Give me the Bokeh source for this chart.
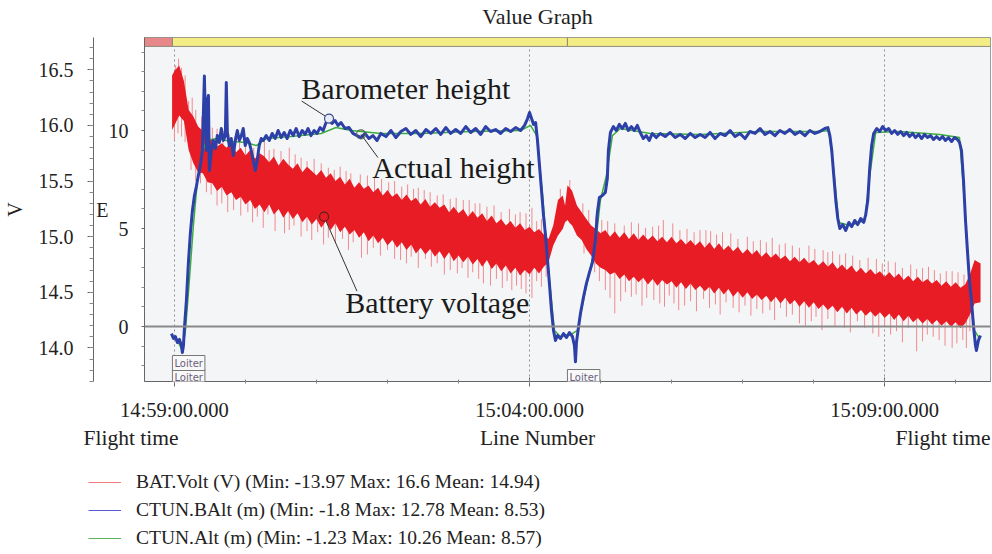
import pandas as pd
from bokeh.plotting import figure
from bokeh.layouts import column
from bokeh.models import (Range1d, LinearAxis, FixedTicker, DatetimeTickFormatter,
                          PrintfTickFormatter, Span, Label, Legend, LegendItem,
                          ColumnDataSource)
from bokeh.embed import file_html
from bokeh.resources import INLINE

SERIF = "Liberation Serif"

# ---- flight log, time in seconds after 14:59:00 ----
# BAT.Volt: dense band of the voltage trace (upper / lower edge, V), 4 s samples
bat_t = [-2] + list(range(0, 329, 4)) + [330, 332, 334, 336] + list(range(340, 673, 4)) + [676, 681]
bat_hi = [16.45, 16.49, 16.54, 16.40, 16.14, 16.08, 15.99, 15.95, 15.88, 15.87,
          15.81, 15.84, 15.80, 15.85, 15.76, 15.80, 15.73, 15.78, 15.70, 15.75,
          15.72, 15.67, 15.72, 15.64, 15.70, 15.65, 15.61, 15.66, 15.58, 15.63,
          15.59, 15.55, 15.60, 15.53, 15.57, 15.50, 15.54, 15.47, 15.52, 15.44,
          15.49, 15.43, 15.46, 15.40, 15.44, 15.37, 15.42, 15.36, 15.39, 15.33,
          15.38, 15.32, 15.35, 15.29, 15.34, 15.27, 15.31, 15.26, 15.29, 15.22,
          15.27, 15.21, 15.25, 15.18, 15.23, 15.17, 15.21, 15.14, 15.19, 15.12,
          15.16, 15.10, 15.14, 15.08, 15.12, 15.06, 15.09, 15.04, 15.07, 15.02,
          14.98, 15.10, 15.33, 15.37, 15.28, 15.46, 15.44, 15.41, 15.28, 15.22,
          15.16, 15.10, 15.07, 15.03, 15.06, 15.00, 15.05, 14.99, 15.04, 14.98,
          15.03, 14.97, 15.02, 14.97, 15.01, 14.96, 15.00, 14.95, 15.00, 14.94,
          14.98, 14.93, 14.97, 14.92, 14.96, 14.90, 14.95, 14.89, 14.94, 14.88,
          14.92, 14.87, 14.91, 14.85, 14.89, 14.84, 14.88, 14.82, 14.86, 14.81,
          14.85, 14.80, 14.83, 14.78, 14.82, 14.77, 14.81, 14.76, 14.79, 14.74,
          14.78, 14.73, 14.77, 14.71, 14.75, 14.70, 14.74, 14.68, 14.72, 14.67,
          14.71, 14.66, 14.69, 14.64, 14.68, 14.63, 14.67, 14.61, 14.65, 14.60,
          14.64, 14.59, 14.62, 14.58, 14.61, 14.56, 14.60, 14.55, 14.59, 14.54,
          14.57, 14.66, 14.79, 14.76]
bat_lo = [15.96, 16.00, 16.09, 16.04, 15.78, 15.66, 15.58, 15.57, 15.49, 15.48,
          15.41, 15.45, 15.37, 15.40, 15.33, 15.36, 15.29, 15.33, 15.25, 15.29,
          15.22, 15.29, 15.20, 15.25, 15.17, 15.23, 15.16, 15.21, 15.13, 15.18,
          15.11, 15.16, 15.08, 15.14, 15.06, 15.12, 15.04, 15.09, 15.02, 15.06,
          14.99, 15.04, 14.96, 15.01, 14.94, 14.99, 14.92, 14.97, 14.90, 14.95,
          14.88, 14.93, 14.85, 14.90, 14.84, 14.89, 14.82, 14.87, 14.80, 14.86,
          14.78, 14.83, 14.77, 14.82, 14.75, 14.80, 14.73, 14.79, 14.71, 14.76,
          14.69, 14.74, 14.67, 14.72, 14.65, 14.70, 14.66, 14.72, 14.67, 14.73,
          14.77, 14.92, 15.01, 15.07, 15.13, 15.15, 15.12, 15.10, 15.01, 14.97,
          14.89, 14.83, 14.76, 14.72, 14.70, 14.66, 14.68, 14.62, 14.66, 14.60,
          14.64, 14.59, 14.63, 14.57, 14.62, 14.56, 14.61, 14.57, 14.60, 14.54,
          14.59, 14.53, 14.58, 14.52, 14.56, 14.51, 14.55, 14.49, 14.54, 14.48,
          14.53, 14.46, 14.51, 14.45, 14.50, 14.44, 14.48, 14.43, 14.47, 14.41,
          14.46, 14.40, 14.45, 14.39, 14.43, 14.37, 14.42, 14.36, 14.41, 14.35,
          14.39, 14.34, 14.38, 14.32, 14.37, 14.31, 14.36, 14.30, 14.34, 14.29,
          14.33, 14.28, 14.32, 14.27, 14.31, 14.25, 14.30, 14.24, 14.29, 14.23,
          14.27, 14.22, 14.26, 14.21, 14.25, 14.20, 14.24, 14.19, 14.23, 14.18,
          14.22, 14.30, 14.40, 14.41]
assert len(bat_t) == len(bat_hi) == len(bat_lo)

# BAT.Volt: isolated samples reaching above the band (band middle -> peak)
up_t = [1, 3.5, 6, 12, 18, 28, 36, 46, 55, 67, 76, 84, 97, 107, 118, 130, 140, 149,
        163, 175, 186, 197, 206, 216, 227, 238, 249, 258, 270, 283, 292, 297, 302, 310,
        326, 334, 345, 356, 366, 380, 392, 404, 413, 421, 433, 444, 453, 463, 470, 484,
        495, 505, 516, 528, 536, 548, 556, 567, 579, 593, 603, 615, 622, 632, 642, 652, 662,
        9, 15, 23, 32, 41, 51, 60, 71, 80, 90, 102, 112, 124, 135, 145, 157, 169, 181, 192,
        202, 211, 222, 233, 244, 254, 264, 276, 288, 306, 350, 361, 372, 386, 398, 409, 427,
        439, 449, 458, 476, 489, 500, 511, 522, 541, 552, 562, 573, 586, 598, 609, 627, 637,
        647, 657, 667]
up_base = [16.25, 16.25, 16.25, 15.95, 15.85, 15.70, 15.65, 15.60, 15.55, 15.52, 15.50,
           15.49, 15.44, 15.41, 15.38, 15.34, 15.30, 15.27, 15.22, 15.19, 15.17, 15.14,
           15.11, 15.09, 15.06, 15.04, 15.01, 14.99, 14.95, 14.91, 14.90, 14.89, 14.88,
           14.88, 15.20, 15.27, 15.08, 14.93, 14.86, 14.84, 14.82, 14.80, 14.80, 14.79,
           14.77, 14.76, 14.74, 14.73, 14.71, 14.69, 14.67, 14.66, 14.64, 14.62, 14.61,
           14.59, 14.58, 14.56, 14.54, 14.52, 14.50, 14.48, 14.47, 14.45, 14.44, 14.43, 14.42,
           16.20, 15.95, 15.80, 15.68, 15.62, 15.57, 15.53, 15.51, 15.49, 15.46, 15.42, 15.39,
           15.36, 15.31, 15.28, 15.24, 15.20, 15.18, 15.15, 15.12, 15.10, 15.07, 15.05, 15.02,
           15.00, 14.97, 14.93, 14.90, 14.88, 14.98, 14.89, 14.85, 14.83, 14.81, 14.80, 14.78,
           14.76, 14.75, 14.73, 14.70, 14.68, 14.67, 14.65, 14.63, 14.60, 14.59, 14.57, 14.55,
           14.53, 14.51, 14.49, 14.46, 14.45, 14.44, 14.43, 14.42]
up_tip = [16.54, 16.60, 16.52, 16.22, 16.14, 16.00, 15.97, 15.92, 15.88, 15.80, 15.86,
          15.79, 15.80, 15.71, 15.70, 15.62, 15.63, 15.57, 15.55, 15.52, 15.50, 15.47,
          15.44, 15.40, 15.38, 15.35, 15.33, 15.30, 15.28, 15.25, 15.22, 15.21, 15.26,
          15.16, 15.43, 15.51, 15.30, 15.18, 15.14, 15.10, 15.12, 15.09, 15.15, 15.12,
          15.07, 15.06, 15.05, 15.04, 15.03, 15.00, 14.97, 14.99, 14.94, 14.90, 14.92,
          14.88, 14.87, 14.85, 14.79, 14.80, 14.78, 14.72, 14.75, 14.72, 14.70, 14.69, 14.68,
          16.45, 16.25, 16.08, 15.98, 15.95, 15.90, 15.83, 15.84, 15.78, 15.77, 15.74, 15.68,
          15.66, 15.60, 15.59, 15.56, 15.53, 15.49, 15.45, 15.43, 15.42, 15.37, 15.34, 15.33,
          15.30, 15.27, 15.22, 15.20, 15.14, 15.24, 15.15, 15.12, 15.13, 15.08, 15.10, 15.06,
          15.04, 15.06, 15.02, 14.98, 14.96, 14.95, 14.93, 14.92, 14.89, 14.86, 14.84, 14.83,
          14.81, 14.76, 14.77, 14.71, 14.73, 14.67, 14.69, 14.66]

# BAT.Volt: isolated samples dropping below the band (dip -> band middle)
dn_t = [0, 3, 9, 14, 22, 31, 40, 50, 62, 70, 79, 93, 101, 112, 121, 130, 142, 151, 158,
        168, 180, 191, 200, 212, 222, 233, 243, 252, 261, 272, 281, 289, 297, 306, 314,
        346, 355, 364, 372, 381, 390, 399, 410, 418, 426, 436, 447, 457, 466, 472, 482,
        492, 503, 512, 522, 533, 542, 552, 566, 577, 590, 600, 610, 620, 627, 636, 646,
        657, 666, 672,
        6, 18, 27, 36, 45, 56, 66, 75, 85, 97, 107, 116, 126, 136, 147, 163, 174, 186, 196,
        206, 217, 228, 239, 248, 257, 267, 277, 285, 293, 302, 310, 359, 368, 377, 386, 395,
        405, 414, 422, 431, 441, 452, 461, 477, 487, 497, 507, 517, 528, 538, 547, 558, 571,
        583, 595, 605, 615, 632, 641, 651, 661, 669]
dn_tip = [15.87, 15.93, 15.85, 15.60, 15.48, 15.38, 15.30, 15.24, 15.22, 15.18, 15.20,
          15.03, 15.10, 15.05, 15.04, 14.99, 14.98, 14.95, 14.81, 14.90, 14.88, 14.79,
          14.82, 14.80, 14.76, 14.70, 14.72, 14.68, 14.58, 14.62, 14.60, 14.56, 14.49,
          14.60, 14.64, 14.85, 14.68, 14.52, 14.31, 14.50, 14.48, 14.45, 14.40, 14.47,
          14.34, 14.42, 14.44, 14.39, 14.41, 14.36, 14.38, 14.35, 14.34, 14.36, 14.30,
          14.20, 14.28, 14.26, 14.18, 14.24, 14.13, 14.20, 14.15, 14.18, 13.97, 14.12,
          14.07, 14.00, 14.07, 14.15,
          15.90, 15.50, 15.40, 15.28, 15.22, 15.19, 15.13, 15.08, 15.05, 15.06, 15.00, 14.97,
          14.93, 14.94, 14.88, 14.84, 14.83, 14.80, 14.76, 14.72, 14.73, 14.66, 14.67, 14.63,
          14.62, 14.56, 14.54, 14.52, 14.53, 14.45, 14.55, 14.60, 14.45, 14.42, 14.46, 14.38,
          14.43, 14.37, 14.40, 14.38, 14.33, 14.36, 14.30, 14.32, 14.29, 14.31, 14.25, 14.28,
          14.22, 14.24, 14.16, 14.20, 14.14, 14.18, 14.10, 14.12, 14.05, 14.06, 14.10, 14.02,
          14.04, 14.00]
dn_base = [16.25, 16.25, 16.20, 15.90, 15.78, 15.68, 15.62, 15.58, 15.53, 15.50, 15.49,
           15.45, 15.43, 15.39, 15.37, 15.34, 15.30, 15.27, 15.24, 15.21, 15.19, 15.15,
           15.13, 15.10, 15.07, 15.05, 15.03, 15.00, 14.98, 14.95, 14.92, 14.90, 14.89,
           14.88, 14.88, 15.08, 14.95, 14.88, 14.85, 14.84, 14.82, 14.81, 14.80, 14.80,
           14.79, 14.77, 14.75, 14.73, 14.72, 14.71, 14.69, 14.68, 14.66, 14.65, 14.63,
           14.61, 14.60, 14.59, 14.56, 14.54, 14.52, 14.50, 14.49, 14.47, 14.46, 14.45,
           14.44, 14.43, 14.42, 14.45,
           16.20, 15.85, 15.72, 15.63, 15.60, 15.55, 15.51, 15.50, 15.47, 15.44, 15.41, 15.38,
           15.35, 15.31, 15.28, 15.22, 15.20, 15.17, 15.14, 15.11, 15.09, 15.06, 15.04, 15.01,
           14.99, 14.96, 14.93, 14.91, 14.90, 14.88, 14.88, 14.90, 14.86, 14.84, 14.83, 14.81,
           14.80, 14.80, 14.79, 14.78, 14.76, 14.74, 14.72, 14.70, 14.69, 14.67, 14.66, 14.64,
           14.62, 14.60, 14.60, 14.58, 14.55, 14.53, 14.51, 14.50, 14.48, 14.45, 14.44, 14.43,
           14.42, 14.42]
assert len(up_t) == len(up_base) == len(up_tip)
assert len(dn_t) == len(dn_tip) == len(dn_base)

# CTUN.BAlt (m)
baro_t = [-2.5, -0.8, 0.8, 2.5, 4.2, 5.9, 6.7, 7.6, 8.4, 10.1, 11.8, 13.5, 15.2, 16.9, 18.5,
          20.2, 21.9, 23.6,
          25.3, 26.1, 27.0, 27.8, 28.7, 29.5, 31.2, 32.9, 34.6, 36.2, 37.9, 39.6, 41.3, 43.0,
          43.8, 44.7, 46.3, 48.0, 49.7, 51.4, 53.1, 54.8, 56.5, 58.1, 59.8, 61.5, 63.2, 64.9,
          66.6, 68.3, 69.9, 71.6, 73.3, 75.0,
          77.5, 80.1, 82.6, 85.1, 87.6, 90.2, 92.7, 95.2, 97.8, 100.3, 102.8, 105.3, 107.9,
          110.4, 112.9, 115.4, 118.0, 120.5, 123.0, 125.6, 128.1, 130.6, 133.1, 135.7, 138.2,
          140.7,
          144.1, 147.5, 150.8, 154.2, 157.6, 161.0, 164.3, 167.7, 171.1, 174.4,
          178.7, 182.9, 187.1, 191.3, 195.5, 199.7, 203.9, 208.1, 212.4, 216.6, 220.8, 225.0,
          229.2, 233.4, 237.6, 241.9, 246.1, 250.3, 254.5, 258.7, 262.9, 267.1, 271.3, 275.6,
          279.8, 284.0, 288.2, 292.4,
          295.8, 298.3, 300.0, 301.7, 303.4, 305.1, 306.7, 308.4, 310.1, 311.8, 313.5, 315.2,
          316.9, 318.5, 320.2, 321.9, 323.6, 326.1, 328.7, 331.2, 333.7, 336.2, 337.9, 338.8,
          339.6, 341.3, 343.0, 345.5, 348.0, 350.6, 353.1, 355.6, 357.3, 359.0, 361.5, 364.0,
          365.7, 366.6, 368.3,
          370.8, 373.3, 375.8, 378.4, 380.9, 383.4, 386.0, 388.5, 391.0, 393.5, 396.1, 398.6,
          401.1, 403.7,
          407.0, 410.4, 414.6, 418.8, 423.0, 427.2, 431.5, 435.7, 439.9, 444.1, 448.3, 452.5,
          456.7, 461.0, 465.2, 469.4, 473.6, 477.8, 482.0, 486.2, 490.5, 494.7, 498.9, 503.1,
          507.3, 511.5, 515.7, 519.9, 524.2, 528.4, 532.6, 536.8, 541.0, 545.2, 549.4,
          552.0, 553.7, 555.3, 557.0, 558.7, 560.4, 562.1, 564.6, 567.1, 569.7, 572.2, 574.7,
          577.2, 579.8, 582.3, 584.0, 585.7, 587.4, 589.0, 590.7,
          593.3, 595.8, 598.3, 600.8, 603.4, 605.9, 608.4, 611.0, 613.5, 616.0, 618.5, 621.1,
          623.6, 626.1, 628.7, 631.2, 633.7, 636.2, 638.8, 641.3, 643.8, 646.4, 648.9, 651.4,
          653.9, 656.5, 659.0, 661.5,
          663.2, 664.9, 666.6, 668.3, 669.9, 671.6, 673.3, 675.0, 676.7, 677.5, 679.2, 680.9]
baro_alt = [-0.36, -0.61, -0.51, -0.82, -0.66, -0.97, -1.33, -0.97, -0.10, 1.33, 3.27, 4.80,
            5.92, 6.68, 7.14, 7.70, 8.21, 8.98,
            12.78, 10.51, 8.98, 11.53, 11.79, 7.96, 8.98, 9.49, 9.08, 9.74, 9.39, 10.10, 9.49,
            9.74, 12.45, 9.90, 9.23, 9.59, 8.72, 9.49, 10.00, 9.49, 9.74, 10.10, 9.23, 9.59,
            9.39, 8.98, 8.47, 7.96, 8.47, 9.23, 9.59, 9.49,
            9.74, 9.49, 9.85, 9.59, 10.00, 9.64, 9.90, 9.59, 10.00, 9.74, 10.10, 9.69, 10.00,
            9.80, 10.10, 9.74, 10.00, 9.85, 10.15, 10.00, 10.41, 10.61, 10.36, 10.51, 10.26,
            10.41,
            10.10, 10.15, 9.85, 9.74, 9.64, 9.85, 9.59, 9.74, 9.49, 9.85,
            9.69, 10.00, 9.64, 9.95, 10.10, 9.80, 10.00, 9.69, 10.05, 9.85, 10.10, 9.80, 10.15,
            9.85, 10.05, 9.85, 10.20, 9.90, 10.10, 9.80, 10.20, 9.95, 10.05, 9.85, 10.10, 9.95,
            10.15, 10.00,
            10.26, 10.61, 10.92, 10.61, 10.31, 10.41, 9.49, 8.21, 6.94, 5.66, 4.64, 3.37, 2.09,
            0.82, -0.20, -0.71, -0.46, -0.61, -0.36, -0.56, -0.31, -0.51, -0.97, -1.80, -0.82,
            -0.05, 0.66, 1.48, 2.19, 2.76, 3.27, 4.39, 5.82, 6.58, 6.68, 6.84, 7.55, 8.98, 9.90,
            10.20, 10.00, 10.31, 10.10, 10.36, 10.00, 10.20, 10.00, 10.26, 9.90, 9.59, 9.74,
            9.49, 9.85,
            9.64, 9.85, 9.69, 9.90, 9.64, 9.80, 9.59, 9.85, 9.64, 9.80, 9.64, 9.90, 9.59, 9.85,
            9.74, 10.00, 9.69, 9.85, 9.59, 9.95, 9.85, 10.10, 9.80, 9.95, 9.74, 10.00, 9.85,
            10.05, 9.80, 9.95, 9.74, 10.00, 9.85, 9.95, 10.10,
            10.15, 9.74, 8.98, 7.70, 6.43, 5.51, 5.00, 5.20, 4.90, 5.31, 5.10, 5.41, 5.20, 5.51,
            5.31, 5.71, 6.43, 8.11, 9.23, 9.85,
            10.10, 9.95, 10.20, 10.00, 10.10, 9.85, 10.00, 9.80, 9.95, 9.74, 9.90, 9.69, 9.85,
            9.64, 9.80, 9.59, 9.80, 9.64, 9.74, 9.54, 9.69, 9.54, 9.69, 9.49, 9.64, 9.44, 9.64,
            9.54,
            9.39, 8.98, 7.45, 5.41, 3.88, 2.35, 1.33, 0.05, -0.97, -1.22, -0.71, -0.46]
assert len(baro_t) == len(baro_alt)

# CTUN.Alt (m)
alt_t = [-2.5, 2.5, 6.7, 9.3, 12.6, 16.0, 19.4, 22.8, 27.0, 35.4, 48.0, 60.7, 69.1, 77.5,
         98.6, 123.9, 136.5, 149.2, 174.4, 208.1, 250.3, 292.4, 300.8, 306.0, 311.0, 316.0,
         321.0, 326.0, 334.6, 340.5, 347.2, 355.6, 359.8, 364.9, 370.0, 376.7, 402.0, 444.1,
         494.7, 545.2, 552.8, 557.0, 561.2, 570.5, 583.2, 587.4, 592.4, 612.6, 646.4, 663.2,
         667.4, 671.6, 675.8, 680.0]
alt_m = [-0.46, -0.71, -1.23, -0.20, 2.35, 5.15, 7.45, 8.72, 9.49, 9.59, 9.44, 9.39, 9.23,
         9.59, 9.69, 9.85, 10.15, 10.00, 9.85, 9.85, 9.95, 10.00, 10.26, 9.74, 6.68, 2.86,
         -0.20, -0.51, -0.41, -0.20, 1.84, 4.13, 6.43, 7.70, 9.74, 10.10, 9.85, 9.80, 9.95,
         9.95, 10.00, 7.96, 5.31, 5.15, 5.41, 7.70, 9.90, 9.95, 9.80, 9.64, 6.43, 2.35,
         -0.20, -0.61]

# flight modes along the top strip
mode_name = ["", "Loiter", "Loiter"]
mode_start = [-25.3, -1.7, 332.0]
mode_end = [-1.7, 332.0, 689.4]
mode_color = ["#e8878a", "#f4ed86", "#f4ed86"]

# legend statistics
series_names = ["BAT.Volt (V)", "CTUN.BAlt (m)", "CTUN.Alt (m)"]
series_colors = ["#f07a7c", "#5b5bd0", "#5cb35c"]
stat_min = ["-13.97", "-1.8", "-1.23"]
stat_max = ["16.6", "12.78", "10.26"]
stat_mean = ["14.94", "8.53", "8.57"]

# call-out anchors (time s, value)
baro_note = (130.6, 10.61)
alt_note = (157.6, 9.80)
bat_note = (126.4, 15.18)

BASE_MS = pd.Timestamp("2020-06-01 14:59:00").value / 1e6


def at(seconds):
    return [BASE_MS + 1000.0 * s for s in seconds]


def strip(height):
    """A plain full-width text strip (pixel coordinates, y grows downward)."""
    s = figure(width=992, height=height, x_range=Range1d(0, 992), y_range=Range1d(height, 0),
               x_axis_type=None, y_axis_type=None, title=None, toolbar_location=None,
               output_backend="svg", min_border=0, outline_line_color=None,
               background_fill_color="white", border_fill_color="white")
    s.frame_align = False
    return s


# ---------------- heading ----------------
head = strip(32)
head.add_layout(Label(x=537, y=16, text="Value Graph", text_align="center",
                      text_baseline="middle", text_font=SERIF, text_font_size="22px",
                      text_color="#222222"))

# ---------------- main chart ----------------
p = figure(width=992, height=392, x_axis_type="datetime", title=None,
           x_range=Range1d(*at([-25.3, 689.4])), y_range=Range1d(-2.806, 14.745),
           output_backend="svg", toolbar_location=None,
           min_border_left=0, min_border_right=2, min_border_top=5, min_border_bottom=43,
           background_fill_color="#f4f5f7", border_fill_color="white",
           outline_line_color="#9a9a9a")
p.frame_align = False
p.extra_y_ranges = {"volt": Range1d(13.698, 16.791)}


def style_axis(ax, tick_in, tick_out, minor_in, minor_out, standoff, label_standoff,
               size="20px"):
    ax.axis_line_color = "#666666"
    ax.major_tick_line_color = "#666666"
    ax.minor_tick_line_color = "#888888"
    ax.major_tick_in = tick_in
    ax.major_tick_out = tick_out
    ax.minor_tick_in = minor_in
    ax.minor_tick_out = minor_out
    ax.major_label_text_font = SERIF
    ax.major_label_text_font_size = size
    ax.major_label_text_color = "#222222"
    ax.major_label_standoff = standoff
    ax.axis_label_text_font = SERIF
    ax.axis_label_text_font_size = "20px"
    ax.axis_label_text_font_style = "normal"
    ax.axis_label_text_color = "#222222"
    ax.axis_label_standoff = label_standoff


# height axis (E), next to the frame
e_axis = p.yaxis[0]
e_axis.ticker = FixedTicker(ticks=[0, 5, 10],
                            minor_ticks=[-2, -1, 1, 2, 3, 4, 6, 7, 8, 9, 11, 12, 13, 14])
e_axis.axis_label = "E"
e_axis.axis_label_orientation = "horizontal"
style_axis(e_axis, 0, 3, 0, 3, 13, -3)

# voltage axis (V), outer
v_axis = LinearAxis(y_range_name="volt", axis_label="V",
                    ticker=FixedTicker(ticks=[14.0, 14.5, 15.0, 15.5, 16.0, 16.5],
                                       minor_ticks=[round(13.7 + 0.1 * i, 1) for i in range(31)]),
                    formatter=PrintfTickFormatter(format="%.1f"))
style_axis(v_axis, 0, 6, 0, 4, 14, 10)
p.add_layout(v_axis, "left")

# time axis
x_axis = p.xaxis[0]
x_axis.ticker = FixedTicker(ticks=at([0, 300, 600]), minor_ticks=at([60 * i for i in range(12)]))
fmt = "%H:%M:%S.%3N"
x_axis.formatter = DatetimeTickFormatter(milliseconds=fmt, seconds=fmt, minsec=fmt, minutes=fmt,
                                         hourmin=fmt, hours=fmt, days=fmt, months=fmt, years=fmt)
style_axis(x_axis, 4, 5, 2, 2, 12, 0, size="20.5px")

p.xgrid.ticker = FixedTicker(ticks=at([0, 300, 600]))
p.xgrid.grid_line_color = "#8f8f8f"
p.xgrid.grid_line_dash = "2 3"
p.ygrid.visible = False

p.add_layout(Span(location=0, dimension="width", line_color="#8a8a8a", line_width=2))

# battery voltage: spikes, then the dense band
spk_t = at(up_t + dn_t)
p.segment(x0=spk_t, y0=up_base + dn_base, x1=spk_t, y1=up_tip + dn_tip,
          y_range_name="volt", line_color="#f08a8e", line_width=1)
bat_src = ColumnDataSource(dict(t=at(bat_t), hi=bat_hi, lo=bat_lo))
p.varea(x="t", y1="lo", y2="hi", source=bat_src, y_range_name="volt", fill_color="#e81c24")

# heights
p.line(at(alt_t), alt_m, line_color="#3aae3a", line_width=1.5)
p.line(at(baro_t), baro_alt, line_color="#2c40a8", line_width=3, line_join="round")

# flight-mode strip
p.quad(left=at(mode_start), right=at(mode_end), bottom=14.29, top=14.745,
       fill_color=mode_color, line_color="#8c8c7c", line_width=1)

# mode tags on the time axis
for i, name in enumerate(mode_name):
    if not name:
        continue
    tag_y = [-3, 11] if i == 1 else [-3]
    for yy in tag_y:
        p.add_layout(Label(x=at([mode_start[i]])[0], y=yy, x_units="data", y_units="screen",
                           text=name, text_font="DejaVu Sans", text_font_size="10px",
                           text_color="#6a5f80", text_baseline="bottom",
                           border_line_color="#777777", background_fill_color="#f8f8f8",
                           padding=2))

# call-outs
note_font = dict(text_font=SERIF, text_font_size="30px", text_color="#1a1a1a",
                 text_baseline="alphabetic", text_align="left")
p.segment(x0=at([107.5]), y0=[11.50], x1=at([baro_note[0]]), y1=[baro_note[1]],
          line_color="#333333", line_width=1)
p.scatter(at([baro_note[0]]), [baro_note[1]], size=9, fill_color="#e8ecf8",
          line_color="#3a4a8a", line_width=1.2)
p.add_layout(Label(x=at([107.2])[0], y=12.14, text="Barometer height", **note_font))

p.segment(x0=at([alt_note[0]]), y0=[alt_note[1]], x1=at([171.9]), y1=[8.62],
          line_color="#333333", line_width=1)
p.scatter(at([alt_note[0]]), [alt_note[1]], size=9, fill_color=None,
          line_color="#556655", line_width=1.2)
p.add_layout(Label(x=at([167.1])[0], y=8.11, text="Actual height", **note_font))

p.segment(x0=at([bat_note[0]]), y0=[bat_note[1]], x1=at([154.2]), y1=[14.51],
          y_range_name="volt", line_color="#333333", line_width=1)
p.scatter(at([bat_note[0]]), [bat_note[1]], y_range_name="volt", size=9,
          fill_color="#e81c24", line_color="#552222", line_width=1.2)
p.add_layout(Label(x=at([144.3])[0], y=14.408, y_range_name="volt",
                   text="Battery voltage", **note_font))

# ---------------- captions and legend ----------------
foot = strip(130)
cap = dict(y=13, text_font=SERIF, text_font_size="21.5px", text_color="#222222",
           text_baseline="middle")
foot.add_layout(Label(x=83, text="Flight time", text_align="left", **cap))
foot.add_layout(Label(x=537, text="Line Number", text_align="center", **cap))
foot.add_layout(Label(x=990, text="Flight time", text_align="right", **cap))

items = []
for name, color, a, b, c in zip(series_names, series_colors, stat_min, stat_max, stat_mean):
    # legend swatch renderer; its single segment lies outside the visible strip
    r = foot.line(x=[-60, -40], y=[-60, -60], line_color=color, line_width=1)
    items.append(LegendItem(label=f"{name} (Min: {a} Max: {b} Mean: {c})", renderers=[r]))
legend = Legend(items=items, location=(88, 5), orientation="vertical",
                glyph_width=33, glyph_height=22, label_height=22, label_standoff=15,
                spacing=6, padding=0, margin=0, border_line_color=None,
                background_fill_alpha=0, label_text_font=SERIF,
                label_text_font_size="19.5px", label_text_color="#222222")
foot.add_layout(legend, "center")

page = column(head, p, foot, spacing=0)
open("out.html", "w").write(file_html(page, INLINE))
